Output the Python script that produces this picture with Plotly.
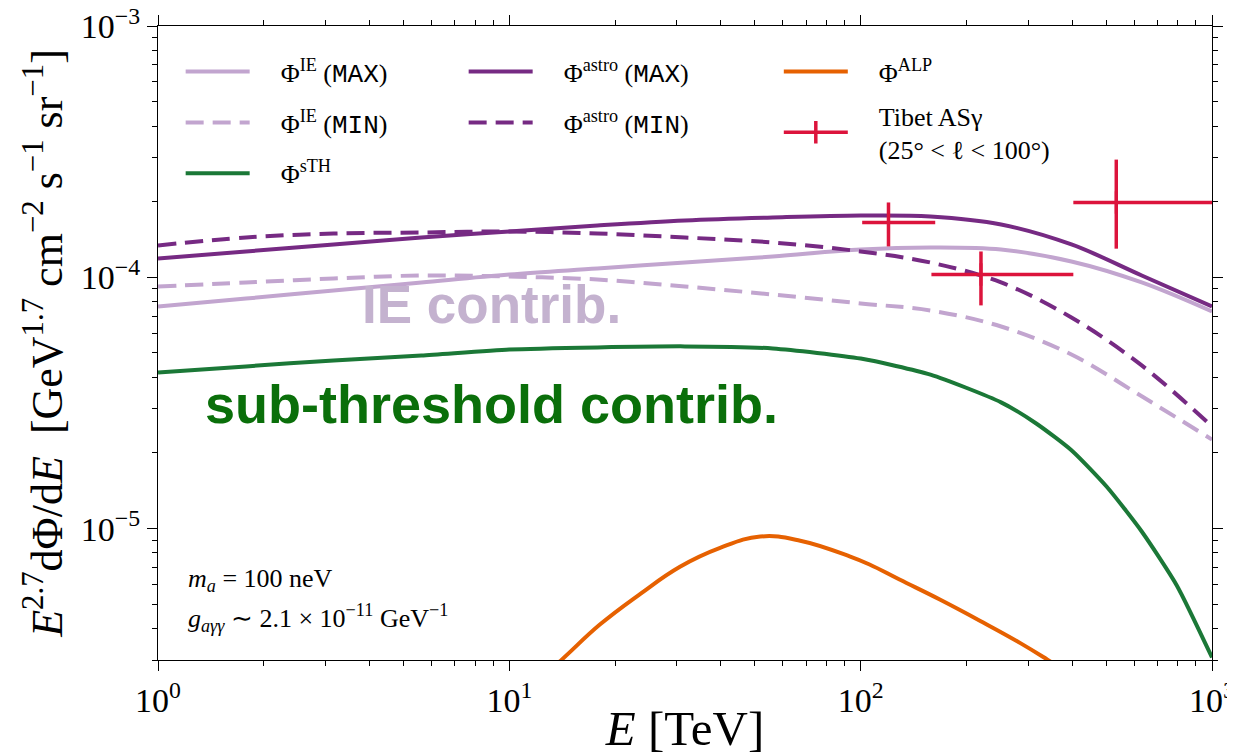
import plotly.graph_objects as go
import numpy as np

# ---------------- data ----------------
E_grid = [1, 1.78, 3.16, 5.62, 10, 17.8, 31.6, 56.2, 100, 158, 251, 398, 631, 1000]
astro_max = [1.188e-4, 1.267e-4, 1.351e-4, 1.440e-4, 1.522e-4, 1.607e-4, 1.683e-4,
             1.730e-4, 1.762e-4, 1.746e-4, 1.622e-4, 1.351e-4, 1.017e-4, 7.65e-5]
astro_min = [1.339e-4, 1.440e-4, 1.494e-4, 1.508e-4, 1.522e-4, 1.494e-4, 1.440e-4,
             1.376e-4, 1.267e-4, 1.145e-4, 9.54e-5, 6.92e-5, 4.46e-5, 2.55e-5]
ie_max = [7.65e-5, 8.23e-5, 8.86e-5, 9.54e-5, 1.026e-4, 1.084e-4, 1.145e-4,
          1.210e-4, 1.290e-4, 1.314e-4, 1.290e-4, 1.156e-4, 9.54e-5, 7.31e-5]
ie_min = [9.19e-5, 9.54e-5, 9.89e-5, 1.017e-4, 1.007e-4, 9.80e-5, 9.19e-5,
          8.54e-5, 7.87e-5, 7.38e-5, 6.37e-5, 4.93e-5, 3.36e-5, 2.26e-5]

E_sth = [1, 1.78, 3.16, 5.62, 10, 17.8, 31.6, 56.2, 100, 158, 251, 316, 398, 501, 631, 794, 1000]
sth = [4.18e-5, 4.42e-5, 4.67e-5, 4.88e-5, 5.16e-5, 5.26e-5, 5.31e-5, 5.21e-5, 4.75e-5,
       4.10e-5, 3.18e-5, 2.62e-5, 2.05e-5, 1.47e-5, 9.74e-6, 5.94e-6, 3.07e-6]

E_alp = [12.2, 14.1, 18.1, 23.6, 30.6, 39.8, 51.8, 67.3, 93.4, 106, 129, 168, 219, 284, 340, 395]
alp = [2.53e-6, 3.01e-6, 4.15e-6, 5.50e-6, 7.05e-6, 8.38e-6, 9.30e-6, 8.95e-6,
       7.74e-6, 7.20e-6, 6.27e-6, 5.22e-6, 4.29e-6, 3.51e-6, 3.01e-6, 2.63e-6]

tibet_E = [120, 220, 534]
tibet_E_lo = [101, 159, 403]
tibet_E_hi = [163, 403, 1000]
tibet_flux = [1.652e-4, 1.026e-4, 1.985e-4]
tibet_flux_lo = [1.327e-4, 7.73e-5, 1.30e-4]
tibet_flux_hi = [1.985e-4, 1.267e-4, 2.94e-4]

x_major = [1, 10, 100, 1000]
x_major_text = ["10<sup>0</sup>", "10<sup>1</sup>", "10<sup>2</sup>", "10<sup>3</sup>"]
y_major = [1e-5, 1e-4, 1e-3]
y_major_text = ["10<sup>−5</sup>", "10<sup>−4</sup>", "10<sup>−3</sup>"]

# ---------------- styling ----------------
C_IE = "#c2a5cf"
C_ASTRO = "#762a83"
C_STH = "#1b7837"
C_ALP = "#e66101"
C_TIBET = "#dc143c"
SERIF = "Liberation Serif"
MONO = "Liberation Mono"
DASH = "18px,9px"
LW = 4
PAD = "\u2002\u2002"

fig = go.Figure()

def mono(s):
    return f"<span style='font-family:{MONO}'>{s}</span>"

fig.add_trace(go.Scatter(x=E_grid, y=ie_max, mode="lines", line=dict(color=C_IE, width=LW, shape="spline"),
                         name=PAD + f"Φ<sup>IE</sup> ({mono('MAX')})", legend="legend", legendgroup="a"))
fig.add_trace(go.Scatter(x=E_grid, y=ie_min, mode="lines", line=dict(color=C_IE, width=LW, dash=DASH, shape="spline"),
                         name=PAD + f"Φ<sup>IE</sup> ({mono('MIN')})", legend="legend", legendgroup="b"))
fig.add_trace(go.Scatter(x=E_sth, y=sth, mode="lines", line=dict(color=C_STH, width=LW, shape="spline", smoothing=0.6),
                         name=PAD + "Φ<sup>sTH</sup>", legend="legend", legendgroup="c"))
fig.add_trace(go.Scatter(x=E_grid, y=astro_max, mode="lines", line=dict(color=C_ASTRO, width=LW, shape="spline"),
                         name=PAD + f"Φ<sup>astro</sup> ({mono('MAX')})", legend="legend2", legendgroup="d"))
fig.add_trace(go.Scatter(x=E_grid, y=astro_min, mode="lines", line=dict(color=C_ASTRO, width=LW, dash=DASH, shape="spline"),
                         name=PAD + f"Φ<sup>astro</sup> ({mono('MIN')})", legend="legend2", legendgroup="e"))
fig.add_trace(go.Scatter(x=E_alp, y=alp, mode="lines", line=dict(color=C_ALP, width=LW, shape="spline", smoothing=1.2),
                         name=PAD + "Φ<sup>ALP</sup>", legend="legend3", legendgroup="f"))

ex_p = [h - c for h, c in zip(tibet_E_hi, tibet_E)]
ex_m = [c - l for c, l in zip(tibet_E, tibet_E_lo)]
ey_p = [h - c for h, c in zip(tibet_flux_hi, tibet_flux)]
ey_m = [c - l for c, l in zip(tibet_flux, tibet_flux_lo)]
fig.add_trace(go.Scatter(
    x=tibet_E, y=tibet_flux, mode="markers",
    marker=dict(symbol="cross-thin", size=16, color=C_TIBET, line=dict(color=C_TIBET, width=3)),
    error_x=dict(type="data", symmetric=False, array=ex_p, arrayminus=ex_m, color=C_TIBET, thickness=3.5, width=0),
    error_y=dict(type="data", symmetric=False, array=ey_p, arrayminus=ey_m, color=C_TIBET, thickness=3.5, width=0),
    showlegend=False, legend="legend3"))
# legend entry (line + vertical tick) for the Tibet points
fig.add_trace(go.Scatter(
    x=[None], y=[None], mode="lines+markers",
    line=dict(color=C_TIBET, width=3.5),
    marker=dict(symbol="line-ns", size=30, color=C_TIBET, line=dict(color=C_TIBET, width=3.5)),
    name=PAD + "Tibet ASγ<br>" + PAD + "(25° < ℓ < 100°)", legend="legend3", legendgroup="g"))

# minor ticks
x_minor = [m * 10 ** d for d in range(0, 3) for m in range(2, 10)]
y_minor = [m * 10 ** d for d in range(-6, -3) for m in range(2, 10)]

axis_common = dict(showline=True, linecolor="black", linewidth=1.2, mirror="ticks",
                   ticks="outside", ticklen=10, tickwidth=1.2, tickcolor="black",
                   showgrid=False, zeroline=False, automargin=False, ticklabeloverflow="allow",
                   tickfont=dict(family=SERIF, size=34, color="black"))

fig.update_xaxes(type="log", range=[0, 3], tickmode="array", tickvals=x_major, ticktext=x_major_text,
                 minor=dict(tickmode="array", tickvals=x_minor, ticks="outside", ticklen=5,
                            tickwidth=1, tickcolor="black", showgrid=False),
                 title=dict(text="<i>E</i> [TeV]", font=dict(family=SERIF, size=49, color="black"), standoff=0),
                 **axis_common)
fig.update_yaxes(type="log", range=[np.log10(3.0e-6), -3], tickmode="array", tickvals=y_major, ticktext=y_major_text,
                 minor=dict(tickmode="array", tickvals=y_minor, ticks="outside", ticklen=5,
                            tickwidth=1, tickcolor="black", showgrid=False),
                 title=dict(text="<i>E</i><sup>2.7</sup>dΦ/d<i>E</i>  [GeV<sup>1.7</sup> cm<sup>−2</sup> s<sup>−1</sup> sr<sup>−1</sup>]",
                            font=dict(family=SERIF, size=44, color="black"), standoff=4),
                 **axis_common)

leg_common = dict(font=dict(family=SERIF, size=26, color="black"), bgcolor="rgba(0,0,0,0)",
                  borderwidth=0, xanchor="left", yanchor="top",
                  traceorder="grouped", itemwidth=64)

fig.update_layout(
    width=1227, height=748,
    margin=dict(l=150, r=23, t=18, b=96),
    paper_bgcolor="white", plot_bgcolor="white",
    font=dict(family=SERIF, color="black"),
    showlegend=True,
    legend=dict(x=0.0215, y=0.965, tracegroupgap=14, **leg_common),
    legend2=dict(x=0.29, y=0.965, tracegroupgap=14, **leg_common),
    legend3=dict(x=0.589, y=0.965, tracegroupgap=7, **leg_common),
    annotations=[
        dict(text="IE contrib.", x=0.316, y=0.561, xref="paper", yref="paper", showarrow=False,
             xanchor="center", yanchor="middle",
             font=dict(family="Liberation Sans", size=53, color="#c4b2cf", weight="bold")),
        dict(text="sub-threshold contrib.", x=0.316, y=0.403, xref="paper", yref="paper", showarrow=False,
             xanchor="center", yanchor="middle",
             font=dict(family="Liberation Sans", size=54, color="#0a6f0a", weight="bold")),
        dict(text="<i>m<sub>a</sub></i> = 100 neV", x=0.0265, y=0.126, xref="paper", yref="paper",
             xanchor="left", yanchor="middle", showarrow=False,
             font=dict(family=SERIF, size=26, color="black")),
        dict(text="<i>g<sub>aγγ</sub></i> ∼ 2.1 × 10<sup>−11</sup> GeV<sup>−1</sup>", x=0.0265, y=0.066,
             xref="paper", yref="paper", xanchor="left", yanchor="middle", showarrow=False,
             font=dict(family=SERIF, size=26, color="black")),
    ],
)

fig.write_html("out.html")
